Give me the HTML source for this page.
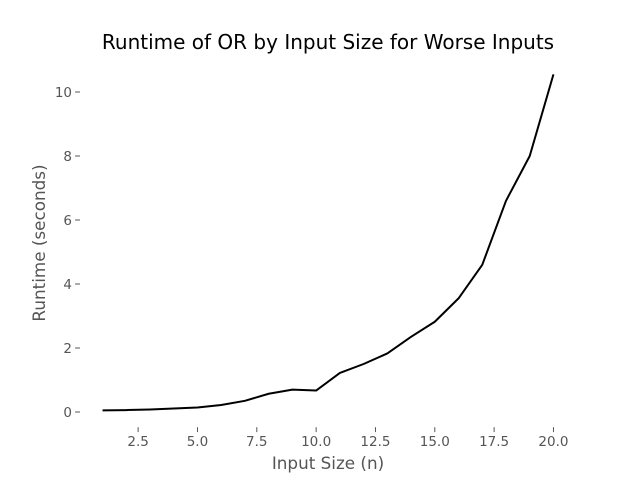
<!DOCTYPE html>
<html><head><meta charset="utf-8"><style>
body{margin:0;background:#fff;}
svg{display:block;font-family:"DejaVu Sans","Liberation Sans",sans-serif;}
</style></head><body>
<svg id="chart" width="640" height="480">
<text x="328" y="49" text-anchor="middle" font-size="20" fill="#000">Runtime of OR by Input Size for Worse Inputs</text>
<text x="328" y="469" text-anchor="middle" font-size="16.8" fill="#555">Input Size (n)</text>
<text transform="translate(45,243) rotate(-90)" text-anchor="middle" font-size="16.8" fill="#555">Runtime (seconds)</text>
<g id="xt"></g><g id="yt"></g><g id="series"></g>
</svg>
<script>
const inputSizes=[1,2,3,4,5,6,7,8,9,10,11,12,13,14,15,16,17,18,19,20];
const runtimes=[0.05,0.06,0.08,0.11,0.14,0.22,0.35,0.57,0.70,0.67,1.22,1.50,1.83,2.35,2.82,3.55,4.60,6.60,8.00,10.55];
const xTicks=[2.5,5.0,7.5,10.0,12.5,15.0,17.5,20.0];
const xTickLabels=["2.5","5.0","7.5","10.0","12.5","15.0","17.5","20.0"];
const yTicks=[0,2,4,6,8,10];
const yTickLabels=["0","2","4","6","8","10"];
const L=80,R=576,T=57.6,B=427.2;
const xmin=0.05,xmax=20.95,ymin=-0.475,ymax=11.075;
const sx=v=>L+(v-xmin)/(xmax-xmin)*(R-L);
const sy=v=>B-(v-ymin)/(ymax-ymin)*(B-T);
const NS="http://www.w3.org/2000/svg";
function mk(tag,attrs,parent){const e=document.createElementNS(NS,tag);for(const k in attrs)e.setAttribute(k,attrs[k]);parent.appendChild(e);return e;}
const xt=document.getElementById('xt'),yt=document.getElementById('yt'),sg=document.getElementById('series');
xTicks.forEach((v,i)=>{
  const t=mk('line',{x1:sx(v),x2:sx(v),y1:B,y2:B+4.9,stroke:'#555','stroke-width':1},xt);
  
  
  const l=mk('text',{x:sx(v),y:B+19,'text-anchor':'middle','font-size':13.5,fill:'#555'},xt);
  l.textContent=xTickLabels[i];
  
  
});
yTicks.forEach((v,i)=>{
  const t=mk('line',{x1:L-4.9,x2:L,y1:sy(v),y2:sy(v),stroke:'#555','stroke-width':1},yt);
  
  
  const l=mk('text',{x:L-8,y:sy(v)+5,'text-anchor':'end','font-size':13.5,fill:'#555'},yt);
  l.textContent=yTickLabels[i];
  
  
});
const d=inputSizes.map((x,i)=>(i?'L':'M')+sx(x).toFixed(2)+','+sy(runtimes[i]).toFixed(2)).join(' ');
const p=mk('path',{d:d,fill:'none',stroke:'#000','stroke-width':2,'stroke-linejoin':'round'},sg);


</script>
</body></html>
